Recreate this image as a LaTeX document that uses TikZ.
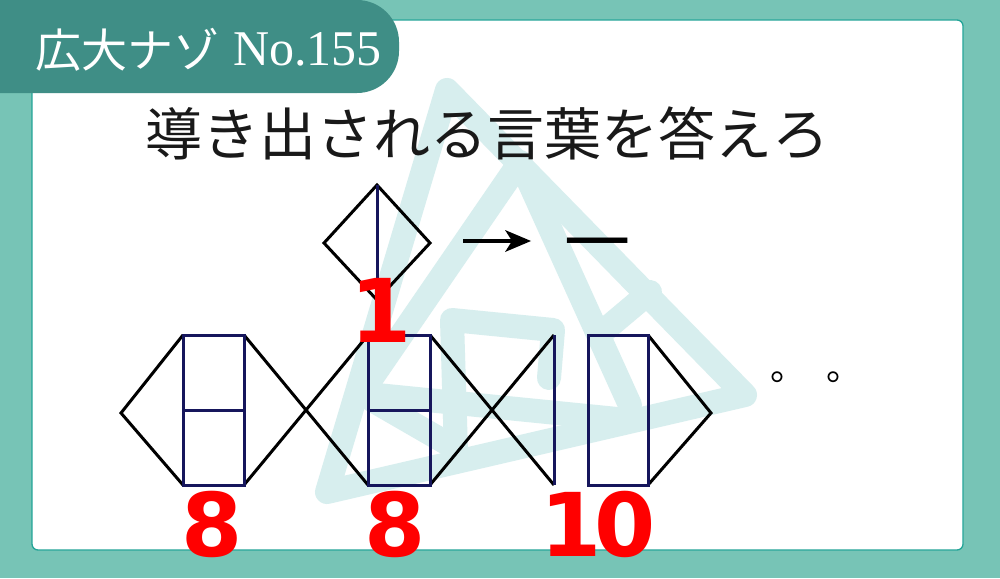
\documentclass[tikz,border=0pt]{standalone}
\usepackage{fontspec}
\newfontfamily\cjk{Noto Sans CJK JP}
\newfontfamily\serifl{Liberation Serif}
\newfontfamily\numf{DejaVu Sans}
\usetikzlibrary{arrows.meta}
\definecolor{framec}{HTML}{77C4B6}
\definecolor{frameline}{HTML}{22A497}
\definecolor{tabc}{HTML}{3F8E86}
\definecolor{wmark}{HTML}{D7EEEE}
\definecolor{navy}{RGB}{22,22,92}
\definecolor{redn}{HTML}{FF0000}
\tikzset{
  wm/.style={draw=wmark, line width=24pt, line join=round, line cap=round},
  blk/.style={draw=black, line width=3pt, line join=miter},
  nav/.style={draw=navy, line width=3pt},
  bignum/.style={inner sep=0pt, text=redn, font=\numf\bfseries\fontsize{88}{88}\selectfont},
  heading/.style={inner sep=0pt, text=black!90, font=\cjk\fontsize{57}{57}\selectfont},
  tabtext/.style={inner sep=0pt, text=white},
  dotmark/.style={inner sep=0pt, anchor=base west, font=\cjk\fontsize{36}{36}\selectfont}
}
\begin{document}
\begin{tikzpicture}[x=1pt,y=-1pt]
\useasboundingbox (0,0) rectangle (1000,578);
% frame
\fill[framec] (0,0) rectangle (1000,578);
\filldraw[fill=white, draw=frameline, line width=1.3pt, rounded corners=6pt] (32,20) rectangle (963,550);
% watermark
\draw[wm] (447,90) -- (327,492) -- (745,395) -- cycle;
\draw[wm] (367,385) -- (520,162) -- (630,405);
\draw[wm] (600,334) -- (650,292);
\draw[wm] (549,378) -- (553,330) -- (452,320) -- (456,452);
\draw[wm] (377,395) -- (617,419);
\draw[wm] (372,400) -- (450,445);
% tab
\fill[tabc, rounded corners=42pt] (-60,0) rectangle (399,93);
\node[tabtext, anchor=base west, font=\cjk\fontsize{46}{46}\selectfont] (tabjp) at (35,67) {広大ナゾ};
\node[tabtext, anchor=base west, font=\serifl\fontsize{50}{50}\selectfont] (tabno) at (233,66) {No.155};
% heading
\node[heading] (title) at (487,133) {導き出される言葉を答えろ};
% top diamond
\coordinate (Dt) at (377,185);
\coordinate (Dl) at (324,243);
\coordinate (Dr) at (430,243);
\coordinate (Db) at (377,300);
\draw[blk] (Dt) -- (Dr) -- (Db) -- (Dl) -- cycle;
\draw[nav] (Dt) -- (Db);
% arrow and result
\coordinate (arrS) at (463,241);
\coordinate (arrE) at (531,241);
\draw[line width=3.2pt] (arrS) -- ([xshift=-14pt]arrE);
\fill (arrE) -- ++(-26,-11) -- ++(7,11) -- ++(-7,11) -- cycle;
\node[inner sep=0pt, font=\cjk\fontsize{66}{66}\selectfont] (ichi) at (597,252) {一};
% bottom figures
\coordinate (L) at (121,413);
\coordinate (R1tl) at (183,335); \coordinate (R1tr) at (244,335);
\coordinate (R1bl) at (183,485); \coordinate (R1br) at (244,485);
\coordinate (R1ml) at (183,410); \coordinate (R1mr) at (244,410);
\coordinate (R2tl) at (368,335); \coordinate (R2tr) at (430,335);
\coordinate (R2bl) at (368,485); \coordinate (R2br) at (430,485);
\coordinate (R2ml) at (368,410); \coordinate (R2mr) at (430,410);
\coordinate (V3t) at (554,335); \coordinate (V3b) at (554,485);
\coordinate (R3tl) at (588,335); \coordinate (R3tr) at (648,335);
\coordinate (R3bl) at (588,485); \coordinate (R3br) at (648,485);
\coordinate (P) at (711,413);
\draw[blk] (R1tl) -- (L) -- (R1bl);
\draw[blk] (R1tr) -- (R2bl);
\draw[blk] (R1br) -- (R2tl);
\draw[blk] (R2tr) -- (V3b);
\draw[blk] (R2br) -- (V3t);
\draw[blk] (R3tr) -- (P) -- (R3br);
\draw[nav] (R1tl) rectangle (R1br);
\draw[nav] (R1ml) -- (R1mr);
\draw[nav] (R2tl) rectangle (R2br);
\draw[nav] (R2ml) -- (R2mr);
\draw[nav] (V3t) -- (V3b);
\draw[nav] (R3tl) rectangle (R3br);
% dots
\node[dotmark] (dot1) at (770,380) {。};
\node[dotmark] (dot2) at (826,380) {。};
% red numbers
\node[bignum] (n1) at (381,310) {1};
\node[bignum] (n8a) at (212,524) {8};
\node[bignum] (n8b) at (395,524) {8};
\node[bignum] (n10) at (598,524) {1\kern-8pt0};
\end{tikzpicture}
\end{document}
